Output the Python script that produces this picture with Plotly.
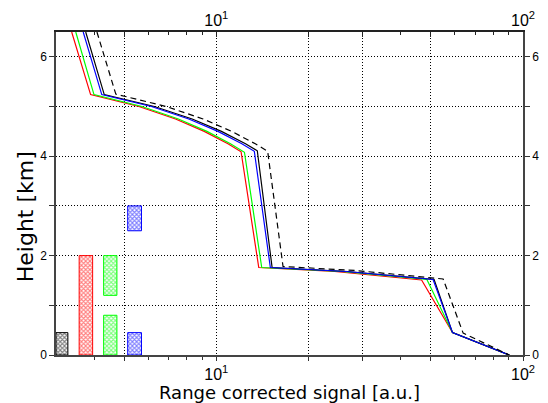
import plotly.graph_objects as go

# Range corrected signal profiles: vertex heights [km] and signal values [a.u.]
h_red = [6.5, 5.24, 5.0, 4.75, 4.5, 4.25, 4.09, 1.76, 1.68, 1.51, 0.45, 0.0]
x_red = [3.375, 3.89, 5.59, 7.36, 9.13, 10.91, 12.04, 13.75, 24.3, 46.7, 58.9, 90.2]

h_green = [6.5, 5.24, 5.0, 4.75, 4.5, 4.25, 4.08, 1.76, 1.68, 1.52, 0.45, 0.0]
x_green = [3.48, 3.99, 5.72, 7.52, 9.32, 11.12, 12.35, 14.06, 25.6, 48.6, 58.9, 90.2]

h_black = [6.5, 5.24, 5.0, 4.75, 4.5, 4.25, 4.11, 1.76, 1.68, 1.52, 0.45, 0.0]
x_black = [3.75, 4.31, 6.28, 8.34, 10.39, 12.45, 13.6, 15.2, 26.8, 51.3, 58.9, 90.2]

h_blue = [6.5, 5.24, 5.0, 4.75, 4.5, 4.25, 4.10, 1.76, 1.68, 1.52, 0.45, 0.0]
x_blue = [3.68, 4.23, 6.14, 8.13, 10.12, 12.11, 13.3, 15.0, 26.5, 50.9, 58.9, 90.2]

h_dash = [6.5, 5.25, 5.0, 4.75, 4.5, 4.25, 4.10, 1.78, 1.70, 1.53, 0.44, 0.0]
x_dash = [4.08, 4.70, 6.87, 9.05, 11.22, 13.40, 14.7, 16.5, 28.5, 54.9, 63.8, 90.2]

# Layer boxes: colour, signal range (x0, x1), height range (y0, y1)
box_color = ["black", "red", "#00ff00", "#00ff00", "blue", "blue"]
box_x0 = [3.0, 3.57, 4.29, 4.29, 5.14, 5.14]
box_x1 = [3.28, 3.95, 4.74, 4.74, 5.70, 5.70]
box_y0 = [0.0, 0.0, 0.0, 1.2, 0.0, 2.5]
box_y1 = [0.45, 2.0, 0.8, 2.0, 0.45, 3.0]

x_major = [5, 10, 20, 30, 50, 100]
x_major_text = ["", "10<sup>1</sup>", "", "", "", "10<sup>2</sup>"]
x_minor = [4, 6, 7, 8, 9, 40, 60, 70, 80, 90]
y_ticks = [0, 1, 2, 3, 4, 5, 6]
y_text = ["0", "", "2", "", "4", "", "6"]

x_title = "Range corrected signal [a.u.]"
y_title = "Height [km]"

fig = go.Figure()

for c, x0, x1, y0, y1 in zip(box_color, box_x0, box_x1, box_y0, box_y1):
    fig.add_trace(go.Scatter(
        x=[x0, x1, x1, x0, x0], y=[y0, y0, y1, y1, y0],
        mode="lines", fill="toself", fillcolor="white",
        fillpattern=dict(shape="x", size=3, solidity=0.6, fgcolor=c, bgcolor="white"),
        line=dict(color=c, width=1), hoverinfo="skip", showlegend=False))

profiles = [
    (x_red, h_red, "red", "solid"),
    (x_green, h_green, "#00ff00", "solid"),
    (x_black, h_black, "black", "solid"),
    (x_blue, h_blue, "blue", "solid"),
    (x_dash, h_dash, "black", "6px,4px"),
]
for xs, hs, c, d in profiles:
    fig.add_trace(go.Scatter(x=xs, y=hs, mode="lines",
                             line=dict(color=c, width=1.2, dash=d),
                             showlegend=False))

# invisible trace to anchor the top/right axes
fig.add_trace(go.Scatter(x=[10], y=[1], xaxis="x2", yaxis="y2", mode="markers",
                         marker=dict(opacity=0), showlegend=False, hoverinfo="skip"))

xr = [0.47712125, 2.0]
grid = dict(showgrid=True, gridcolor="black", griddash="1px,2px", gridwidth=1)

fig.update_layout(
    width=548, height=403,
    margin=dict(l=56, r=25, t=32, b=48),
    paper_bgcolor="white", plot_bgcolor="white",
    font=dict(family="Liberation Sans", color="black"),
    xaxis=dict(type="log", range=xr, tickmode="array", tickvals=x_major,
               ticktext=x_major_text, ticks="outside", ticklen=4, tickcolor="#333",
               tickfont=dict(size=16, family="Liberation Sans"),
               minor=dict(tickmode="array", tickvals=x_minor, ticks="outside",
                          ticklen=3, tickcolor="#333", showgrid=False),
               showline=True, linecolor="#444", linewidth=1.5, zeroline=False,
               automargin=False, **grid),
    xaxis2=dict(type="log", range=xr, overlaying="x", side="top", anchor="y",
                tickmode="array", tickvals=x_major, ticktext=x_major_text,
                ticks="inside", ticklen=5, tickcolor="#222",
                tickfont=dict(size=16, family="Liberation Sans"),
                ticklabelstandoff=-2,
                minor=dict(tickmode="array", tickvals=x_minor, ticks="inside",
                           ticklen=3, tickcolor="#222", showgrid=False),
                showline=True, linecolor="#222", linewidth=1.5, automargin=False,
                showgrid=False, zeroline=False),
    yaxis=dict(range=[0, 6.5], tickmode="array", tickvals=y_ticks, ticktext=y_text,
               ticks="outside", ticklen=5, tickcolor="#333",
               tickfont=dict(size=12, family="Liberation Sans"),
               tickprefix="<b>", ticksuffix="</b>",
               showline=True, linecolor="#444", linewidth=1.5, zeroline=False,
               automargin=False, **grid),
    yaxis2=dict(range=[0, 6.5], overlaying="y", side="right", anchor="x",
                tickmode="array", tickvals=y_ticks, ticktext=y_text,
                ticks="outside", ticklen=5, tickcolor="#333",
                tickfont=dict(size=12, family="Liberation Sans"),
                showline=True, linecolor="#444", linewidth=1.5, automargin=False,
                showgrid=False, zeroline=False),
    annotations=[
        dict(text=x_title, xref="paper", yref="paper", x=0.5, y=-0.115,
             xanchor="center", yanchor="middle", showarrow=False,
             font=dict(size=18, family="DejaVu Sans")),
        dict(text=y_title, xref="paper", yref="paper", x=-0.066, y=0.427,
             xanchor="center", yanchor="middle", textangle=-90, showarrow=False,
             font=dict(size=22, family="DejaVu Sans")),
    ],
)

fig.write_html("out.html")
